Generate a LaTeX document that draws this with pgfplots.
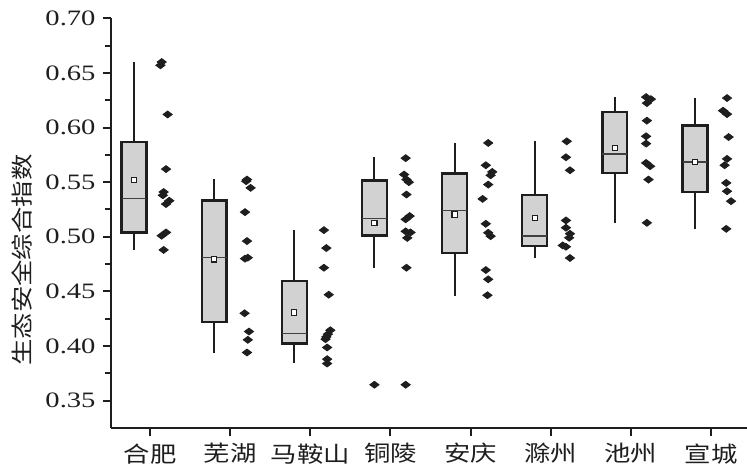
\documentclass[border=0pt]{standalone}
\usepackage{fontspec}
\setmainfont{Liberation Serif}[FakeStretch=1.3]
\newfontfamily\cjk{Noto Sans CJK SC}[FakeStretch=1.2]
\usepackage{pgfplots}
\usepgfplotslibrary{statistics}
\pgfplotsset{compat=1.18}
\definecolor{boxgray}{RGB}{210,210,210}
\definecolor{ink}{RGB}{30,30,30}
\begin{document}
\begin{tikzpicture}
\begin{axis}[name=ax, scale only axis, width=318pt, height=204.85pt,
  xmin=0.513, xmax=8.449, ymin=0.325, ymax=0.70,
  axis x line*=bottom, axis y line*=left,
  axis line style={line width=1.3pt, ink},
  xtick={1,2,3,4,5,6,7,8},
  xticklabels={合肥,芜湖,马鞍山,铜陵,安庆,滁州,池州,宣城},
  xticklabel style={font=\cjk\fontsize{11}{13}\selectfont, text=ink},
  ytick={0.35,0.40,0.45,0.50,0.55,0.60,0.65,0.70},
  minor ytick={0.375,0.425,0.475,0.525,0.575,0.625,0.675},
  yticklabel style={font=\fontsize{11}{13}\selectfont, text=ink,
    /pgf/number format/.cd, fixed, fixed zerofill, precision=2, assume math mode=true},
  tick align=outside, major tick length=4.2pt, minor tick length=3pt,
  tick style={line width=1pt, ink},
  ylabel={\cjk 生态安全综合指数},
  ylabel style={font=\cjk\fontsize{11}{13}\selectfont, text=ink, at={(axis description cs:-0.14,0.41)}, anchor=center},
  boxplot/draw direction=y,
  boxplot/every box/.style={draw=ink, line width=1.2pt, fill=boxgray},
  boxplot/every whisker/.style={draw=ink, line width=1.05pt},
  boxplot/every median/.style={draw=black!75, line width=0.55pt},
  clip=false,
]
% boxes: draw position, lower whisker, lower quartile, median, upper quartile, upper whisker
\addplot[boxplot prepared={draw position=0.8, lower whisker=0.488, lower quartile=0.504, median=0.535, upper quartile=0.587, upper whisker=0.660, box extend=0.31, whisker extend=0}] coordinates {};
\addplot[boxplot prepared={draw position=1.8, lower whisker=0.3932, lower quartile=0.4221, median=0.4809, upper quartile=0.5332, upper whisker=0.553, box extend=0.31, whisker extend=0}] coordinates {};
\addplot[boxplot prepared={draw position=2.8, lower whisker=0.3841, lower quartile=0.4023, median=0.4118, upper quartile=0.4593, upper whisker=0.5061, box extend=0.31, whisker extend=0}] coordinates {};
\addplot[boxplot prepared={draw position=3.8, lower whisker=0.4717, lower quartile=0.5013, median=0.5165, upper quartile=0.5515, upper whisker=0.5728, box extend=0.31, whisker extend=0}] coordinates {};
\addplot[boxplot prepared={draw position=4.8, lower whisker=0.4459, lower quartile=0.4854, median=0.5241, upper quartile=0.5579, upper whisker=0.5859, box extend=0.31, whisker extend=0}] coordinates {};
\addplot[boxplot prepared={draw position=5.8, lower whisker=0.4806, lower quartile=0.4915, median=0.5007, upper quartile=0.5381, upper whisker=0.5874, box extend=0.31, whisker extend=0}] coordinates {};
\addplot[boxplot prepared={draw position=6.8, lower whisker=0.5128, lower quartile=0.5585, median=0.5758, upper quartile=0.6145, upper whisker=0.6279, box extend=0.31, whisker extend=0}] coordinates {};
\addplot[boxplot prepared={draw position=7.8, lower whisker=0.5067, lower quartile=0.5408, median=0.5685, upper quartile=0.602, upper whisker=0.627, box extend=0.31, whisker extend=0}] coordinates {};
% means
\addplot[only marks, mark=square*, mark size=1.3pt, mark options={fill=white, draw=ink, line width=0.55pt}] coordinates {
(0.8,0.552) (1.8,0.4793) (2.8,0.4307) (3.8,0.5128) (4.8,0.5204) (5.8,0.5171) (6.8,0.5813) (7.8,0.5685)};
% outlier of Tongling
\addplot[only marks, mark=diamond*, mark size=2.3pt, mark options={rotate=90, fill=ink, draw=ink}] coordinates {(3.8,0.3646)};
% data points
\addplot[only marks, mark=diamond*, mark size=2.3pt, mark options={rotate=90, fill=ink, draw=ink}] coordinates {
(1.146,0.660) (1.13,0.657) (1.22,0.612) (1.20,0.562) (1.17,0.541) (1.16,0.538) (1.24,0.533) (1.20,0.530) (1.20,0.504) (1.145,0.501) (1.17,0.488)
(2.21,0.5524) (2.20,0.5509) (2.255,0.5448) (2.185,0.5226) (2.21,0.4961) (2.22,0.4809) (2.185,0.480) (2.18,0.430) (2.235,0.4133) (2.22,0.4057) (2.21,0.3941)
(3.17,0.5061) (3.20,0.4897) (3.17,0.4717) (3.23,0.447) (3.25,0.4145) (3.22,0.4109) (3.20,0.4084) (3.19,0.4063) (3.21,0.3987) (3.21,0.388) (3.21,0.384)
(4.19,0.572) (4.17,0.557) (4.20,0.5524) (4.23,0.550) (4.20,0.5387) (4.24,0.519) (4.19,0.516) (4.19,0.505) (4.25,0.504) (4.21,0.499) (4.20,0.4717) (4.19,0.3646)
(5.22,0.5859) (5.19,0.5655) (5.27,0.5594) (5.25,0.5563) (5.22,0.5478) (5.15,0.5347) (5.19,0.5119) (5.22,0.5037) (5.25,0.5006) (5.19,0.4696) (5.22,0.4611) (5.21,0.4465)
(6.20,0.5874) (6.19,0.5728) (6.24,0.5609) (6.19,0.5150) (6.19,0.5083) (6.24,0.5028) (6.23,0.4991) (6.15,0.4921) (6.19,0.4909) (6.24,0.4806)
(7.19,0.6279) (7.25,0.626) (7.20,0.6224) (7.20,0.6063) (7.19,0.592) (7.19,0.5853) (7.19,0.5676) (7.24,0.5646) (7.22,0.5524) (7.20,0.5128)
(8.20,0.627) (8.15,0.6154) (8.20,0.6123) (8.22,0.5913) (8.20,0.5713) (8.17,0.5655) (8.19,0.5493) (8.20,0.5417) (8.25,0.5326) (8.19,0.5073)
};
\end{axis}
\pgfresetboundingbox
\path[use as bounding box] ([xshift=-55.5pt,yshift=-22.5pt]ax.south west) rectangle ([yshift=9.15pt]ax.north east);
\end{tikzpicture}
\end{document}
